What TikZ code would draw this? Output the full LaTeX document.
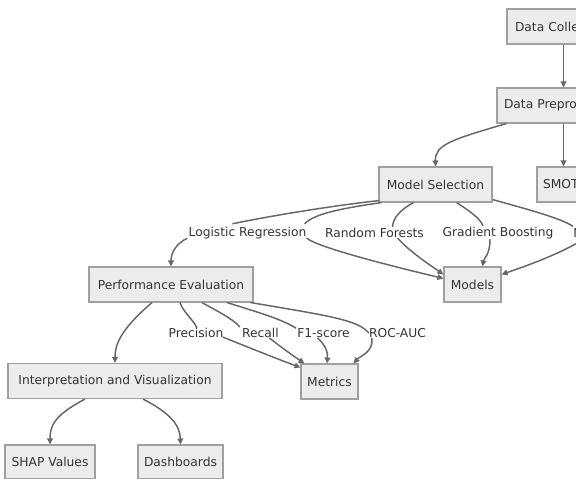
\documentclass[tikz,border=0pt]{standalone}
\usepackage{fontspec}
\newfontfamily\djv{DejaVu Sans}
\usetikzlibrary{arrows.meta,calc}
\definecolor{boxfill}{HTML}{ECECEC}
\definecolor{boxline}{HTML}{A0A0A0}
\definecolor{edgec}{HTML}{666666}
\definecolor{txt}{HTML}{333333}
\begin{document}
\begin{tikzpicture}[x=0.75pt,y=-0.75pt,
  box/.style={draw=boxline, fill=boxfill, line width=0.8pt, text=txt,
    font=\djv\fontsize{9.2}{11}\selectfont, inner sep=0pt, minimum height=26.25pt},
  cutbox/.style={box, align=left},
  lbl/.style={text=txt, font=\djv\fontsize{9.2}{11}\selectfont, inner sep=0pt},
  edge/.style={draw=edgec, line width=1.1pt},
  arr/.style={edge, -{Triangle[length=4.5pt,width=4.2pt]}}]
\useasboundingbox (0,0) rectangle (576,479);
\clip (0,0) rectangle (576,479);

% boxes
\node[cutbox, inner xsep=6pt, text width=72.75pt] (dc) at (563.5,26.5) {Data Colle};
\node[cutbox, inner xsep=5.25pt, text width=81.75pt] (dp) at (558.5,105.5) {Data Prepro};
\node[box, minimum width=84.75pt] (ms) at (435.5,184.5) {Model Selection};
\node[cutbox, inner xsep=4.5pt, text width=53.25pt] (smot) at (578.5,184.5) {SMOT};
\node[box, minimum width=42.75pt] (models) at (472.5,284.5) {Models};
\node[box, minimum width=123pt] (pe) at (171,284.5) {Performance Evaluation};
\node[box, minimum width=42.75pt] (metrics) at (329.5,381.5) {Metrics};
\node[box, minimum width=160.5pt] (interp) at (115,381) {Interpretation and Visualization};
\node[box, minimum width=67.5pt, minimum height=25.5pt] (shap) at (50,462) {SHAP Values};
\node[box, minimum width=63.75pt, minimum height=25.5pt] (dash) at (180.5,462) {Dashboards};

% edge labels
\node[lbl] (lr) at (247.5,233) {Logistic Regression};
\node[lbl] (rf) at (374.5,233) {Random Forests};
\node[lbl] (gb) at (498,233) {Gradient Boosting};
\node[lbl, anchor=west] (nn) at (573,233) {N};
\node[lbl] (prec) at (196,333) {Precision};
\node[lbl] (rec) at (260.5,333) {Recall};
\node[lbl] (f1) at (323.5,333) {F1-score};
\node[lbl] (roc) at (397.5,333) {ROC-AUC};

% connectors
\draw[arr] (dc.south) -- (dc.south |- dp.north);
\draw[arr] (dc.south |- dp.south) -- (dc.south |- smot.north);
\draw[arr] ($(dp.south west)+(10,0)$) .. controls (450,140) and (435,145) .. (ms.north);

\draw[edge] ($(ms.south west)+(1,-2)$) .. controls (330,206) and (270,216) .. ($(lr.north west)+(44,-3)$);
\draw[arr] ($(lr.south west)+(-1,-1)$) .. controls (177,243) and (171,252) .. (pe.north);

\draw[edge] ($(ms.south west)+(3,0)$) .. controls (345,208) and (315,213) .. ($(lr.north east)+(-2,-3)$);
\draw[arr] ($(lr.east)+(0,5)$) .. controls (318,248) and (400,268) .. ($(models.west)+(0,-6)$);

\draw[edge] ($(ms.south)+(-22,0)$) .. controls (400,210) and (393,218) .. ($(rf.north)+(18,-1)$);
\draw[arr] ($(rf.south)+(23,0)$) .. controls (410,252) and (430,265) .. ($(models.west)+(0,-10)$);

\draw[edge] ($(ms.south)+(21,0)$) .. controls (468,210) and (480,218) .. ($(gb.north)+(-15,-1)$);
\draw[arr] ($(gb.south)+(-8,0)$) .. controls (490,255) and (484,258) .. ($(models.north)+(10,0)$);

\draw[edge] ($(ms.south east)+(0,-3)$) .. controls (530,210) and (560,218) .. ($(nn.north west)+(0,-2)$);
\draw[arr] ($(nn.south west)+(3,6)$) .. controls (550,258) and (520,268) .. ($(models.east)+(0,-10)$);

\draw[arr] ($(pe.south)+(-19,0)$) .. controls (120,330) and (115,345) .. (interp.north);

\draw[edge] ($(pe.south)+(9,0)$) .. controls (183,312) and (192,318) .. ($(prec.north)+(1,0)$);
\draw[arr] ($(prec.east)+(-1,4)$) .. controls (250,348) and (280,360) .. ($(metrics.north west)+(0,4)$);

\draw[edge] ($(pe.south)+(31,0)$) .. controls (215,310) and (232,318) .. ($(rec.north west)+(-2,-1)$);
\draw[arr] ($(rec.south)+(9,0)$) .. controls (282,348) and (295,357) .. ($(metrics.north west)+(4,0)$);

\draw[edge] ($(pe.south)+(56,0)$) .. controls (250,310) and (280,318) .. ($(f1.north west)+(-1,0)$);
\draw[arr] ($(f1.south)+(-6,0)$) .. controls (326,346) and (328,352) .. ($(metrics.north)+(-2.5,0)$);

\draw[edge] ($(pe.south east)+(-3,0)$) .. controls (330,316) and (358,320) .. (roc.west);
\draw[arr] ($(roc.south west)+(3,0)$) .. controls (374,352) and (360,356) .. ($(metrics.north east)+(-5,0)$);

\draw[arr] ($(interp.south)+(-30,0)$) .. controls (55,415) and (50,425) .. (shap.north);
\draw[arr] ($(interp.south)+(28,0)$) .. controls (170,413) and (180,425) .. (dash.north);
\end{tikzpicture}
\end{document}
